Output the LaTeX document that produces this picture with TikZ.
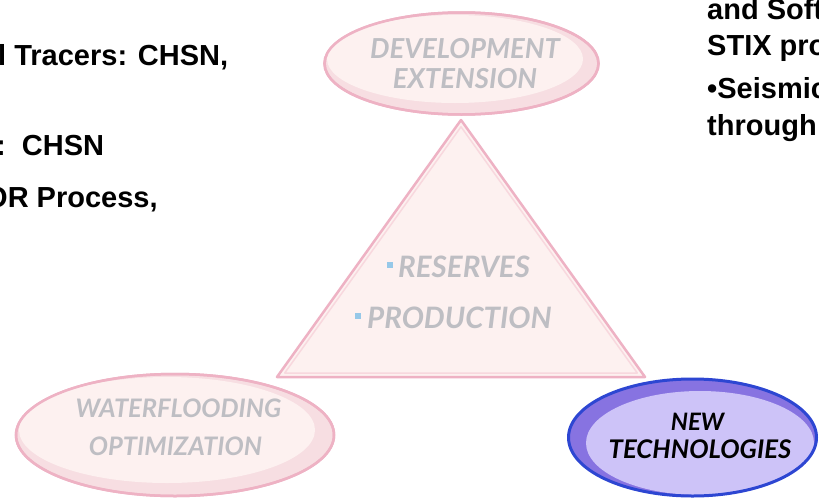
\documentclass[tikz,border=0pt]{standalone}
\usepackage{fontspec}
\setmainfont{Liberation Sans}
\newfontfamily\labfont{Lato}
\definecolor{pinkline}{RGB}{238,178,196}
\definecolor{pinkdark}{RGB}{247,222,226}
\definecolor{pinklight}{RGB}{253,241,240}
\definecolor{pinkinner}{RGB}{248,216,222}
\definecolor{bluline}{RGB}{45,70,210}
\definecolor{blumid}{RGB}{135,115,225}
\definecolor{blulight}{RGB}{205,195,248}
\definecolor{labgray}{RGB}{190,190,195}
\definecolor{bulblue}{RGB}{150,200,232}
\tikzset{
  bodytext/.style={font=\bfseries\fontsize{29}{35}\selectfont, text=black, inner sep=0pt, anchor=base west},
  labtext/.style={font=\labfont\bfseries\itshape\fontsize{27.5}{32}\selectfont, text=labgray, inner sep=0pt, anchor=base},
  tritext/.style={labtext, font=\labfont\bfseries\itshape\fontsize{29.5}{34}\selectfont, anchor=base west},
  pinkoval/.style={fill=pinkdark, draw=pinkline, line width=2.5pt},
  pinkcore/.style={fill=pinklight},
  bluoval/.style={fill=blumid, draw=bluline, line width=3pt},
  blucore/.style={fill=blulight},
  tri/.style={fill=pinklight, draw=pinkline, line width=2.5pt, line join=round},
  triin/.style={draw=pinkinner, line width=1.5pt, line join=round},
  bul/.style={fill=bulblue, minimum size=6pt, inner sep=0pt, anchor=center}
}
\begin{document}
\begin{tikzpicture}[x=1pt,y=-1pt]
\clip (0,0) rectangle (819,498);
\fill[white] (0,0) rectangle (819,498);

% triangle
\draw[tri] (461,120) coordinate (apex) -- (645,377) coordinate (br) -- (277,377) coordinate (bl) -- cycle;
\draw[triin] (461,126.8) -- (637.3,373) -- (284.7,373) -- cycle;

% top ellipse
\fill[pinkoval] (461.5,63.5) ellipse [x radius=137, y radius=51];
\fill[pinkcore] (455,59) ellipse [x radius=128, y radius=44];
\draw[draw=pinkline, line width=2.5pt] (461.5,63.5) ellipse [x radius=137, y radius=51];
\node[labtext] (dev1) at (465,58) {DEVELOPMENT};
\node[labtext] (dev2) at (465,88) {EXTENSION};

% triangle text
\node[tritext] (res) at (398,277) {RESERVES};
\node[tritext] (prod) at (367,328) {PRODUCTION};
\node[bul] (b1) at (389.5,265) {};
\node[bul] (b2) at (357.5,316) {};

% waterflooding ellipse
\fill[pinkoval] (175,435) ellipse [x radius=159, y radius=61];
\fill[pinkcore] (167,430) ellipse [x radius=148, y radius=53];
\draw[draw=pinkline, line width=2.5pt] (175,435) ellipse [x radius=159, y radius=61];
\node[labtext, font=\labfont\bfseries\itshape\fontsize{25.5}{30}\selectfont] (wf1) at (178.5,417) {WATERFLOODING};
\node[labtext, font=\labfont\bfseries\itshape\fontsize{25.5}{30}\selectfont] (wf2) at (175.5,455) {OPTIMIZATION};

% new technologies ellipse
\fill[blumid] (692.5,437.5) ellipse [x radius=124, y radius=58.5];
\fill[blucore] (700,443) ellipse [x radius=114, y radius=52];
\draw[draw=bluline, line width=3pt] (692.5,437.5) ellipse [x radius=124, y radius=58.5];
\node[labtext, text=black, font=\labfont\bfseries\itshape\fontsize{24}{30}\selectfont] (nt1) at (697.5,430) {NEW};
\node[labtext, text=black, font=\labfont\bfseries\itshape\fontsize{25.7}{30}\selectfont] (nt2) at (700,458) {TECHNOLOGIES};

% left body text
\node[bodytext] (l1) at (-2,65) {l Tracers: CHSN,};
\node[bodytext] (l2) at (-4,155) {:\ \ CHSN};
\node[bodytext] (l3) at (-15,207) {OR Process,};

% right body text
\node[bodytext] (r1) at (707,19) {and Software};
\node[bodytext] (r2) at (707,55) {STIX process};
\node[bodytext] (r3) at (707,98) {•Seismic};
\node[bodytext] (r4) at (707,135) {through};
\end{tikzpicture}
\end{document}
